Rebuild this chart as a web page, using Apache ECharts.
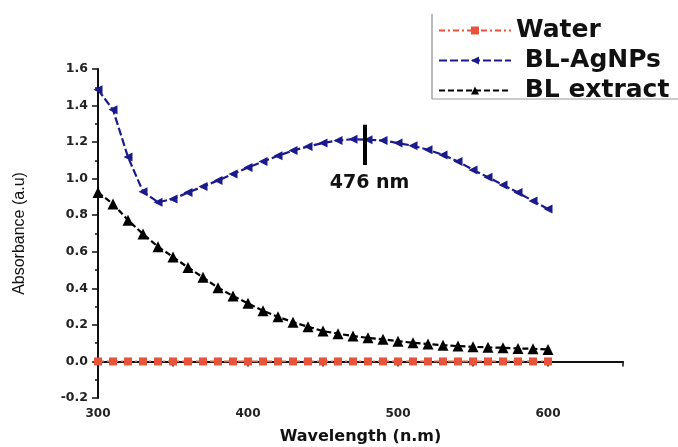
<!DOCTYPE html>
<html>
<head>
<meta charset="utf-8">
<script src="https://cdn.jsdelivr.net/npm/echarts@6/dist/echarts.min.js"></script>
<style>
html,body{margin:0;padding:0;background:#fff;}
#chart{width:678px;height:447px;}
</style>
</head>
<body>
<div id="chart"></div>
<script>
const wavelengths = [300,310,320,330,340,350,360,370,380,390,400,410,420,430,440,450,460,470,480,490,500,510,520,530,540,550,560,570,580,590,600];
const water = [0,0,0,0,0,0,0,0,0,0,0,0,0,0,0,0,0,0,0,0,0,0,0,0,0,0,0,0,0,0,0];
const blAgNPs = [1.487,1.377,1.118,0.929,0.871,0.889,0.924,0.957,0.990,1.026,1.061,1.094,1.125,1.154,1.176,1.195,1.209,1.216,1.213,1.209,1.195,1.180,1.158,1.130,1.094,1.048,1.008,0.966,0.924,0.878,0.834];
const blExtract = [0.924,0.862,0.773,0.697,0.628,0.572,0.514,0.460,0.403,0.358,0.318,0.277,0.244,0.215,0.190,0.166,0.152,0.139,0.129,0.121,0.111,0.102,0.095,0.089,0.084,0.080,0.077,0.075,0.071,0.069,0.066];
const seriesNames = ['Water','BL-AgNPs','BL extract'];
const peakX = 478;
const peakRange = [1.075, 1.295];
const peakLabel = '476 nm';
const peakLabelPos = [481, 0.977];
const xTickLabels = [300,400,500,600];

const pairs = arr => wavelengths.map((w,i)=>[w,arr[i]]);
const boldFont = 'DejaVu Sans';

const chart = echarts.init(document.getElementById('chart'));
chart.setOption({
  animation:false,
  backgroundColor:'#fff',
  grid:{left:98,right:55,top:69,bottom:49,containLabel:false,outerBoundsMode:'none'},
  xAxis:{
    type:'value',min:300,max:650,interval:50,
    name:'Wavelength (n.m)',nameLocation:'middle',nameGap:31,
    nameTextStyle:{fontFamily:boldFont,fontWeight:'bold',fontSize:16,color:'#111'},
    axisLine:{show:true,lineStyle:{color:'#111',width:2}},
    axisTick:{show:true,length:5,lineStyle:{color:'#111',width:1.5}},
    axisLabel:{margin:10,fontFamily:boldFont,fontWeight:'bold',fontSize:12,color:'#222',
      formatter:v=> xTickLabels.indexOf(v)>=0 ? String(v) : ''},
    splitLine:{show:false}
  },
  yAxis:{
    type:'value',min:-0.2,max:1.6,interval:0.2,
    name:'Absorbance (a.u)',nameLocation:'middle',nameGap:70,
    nameTextStyle:{fontFamily:'Liberation Sans',fontSize:16,color:'#111'},
    axisLine:{show:true,lineStyle:{color:'#111',width:2}},
    axisTick:{show:true,length:6,lineStyle:{color:'#111',width:1.5}},
    minorTick:{show:true,splitNumber:2,length:3,lineStyle:{color:'#111',width:1.5}},
    axisLabel:{margin:10,fontFamily:boldFont,fontWeight:'bold',fontSize:12.5,color:'#222',
      formatter:v=>v.toFixed(1)},
    splitLine:{show:false}
  },
  legend:{
    orient:'vertical',left:433,top:13,itemWidth:72,itemHeight:10,itemGap:5,
    data:seriesNames,
    formatter:n=> n==='Water' ? n : ' '+n,
    textStyle:{fontFamily:boldFont,fontWeight:'bold',fontSize:25,color:'#111'}
  },
  series:[
    {name:seriesNames[0],type:'line',data:pairs(water),
     symbol:'rect',symbolSize:8,
     itemStyle:{color:'#e8533b'},
     lineStyle:{color:'#e8533b',width:1.8,type:[6,3,2,3]},z:3},
    {name:seriesNames[1],type:'line',data:pairs(blAgNPs),
     symbol:'triangle',symbolRotate:90,symbolSize:9,
     itemStyle:{color:'#1a1a8c'},
     lineStyle:{color:'#1a1a8c',width:2.2,type:[8,3]},z:4,
     markLine:{silent:true,symbol:['none','none'],
       lineStyle:{color:'#000',width:4,type:'solid'},label:{show:false},
       data:[[{coord:[peakX,peakRange[0]]},{coord:[peakX,peakRange[1]]}]]},
     markPoint:{symbol:'circle',symbolSize:0,
       label:{show:true,formatter:peakLabel,fontFamily:boldFont,fontWeight:'bold',fontSize:19,color:'#111'},
       data:[{coord:peakLabelPos}]}},
    {name:seriesNames[2],type:'line',data:pairs(blExtract),
     symbol:'triangle',symbolSize:11,
     itemStyle:{color:'#000'},
     lineStyle:{color:'#000',width:2.2,type:[6,3]},z:5}
  ],
  graphic:[
    {type:'line',shape:{x1:432,y1:14,x2:432,y2:99},style:{stroke:'#777',lineWidth:1}},
    {type:'line',shape:{x1:432,y1:99,x2:678,y2:99},style:{stroke:'#999',lineWidth:1}}
  ]
});
</script>
</body>
</html>
